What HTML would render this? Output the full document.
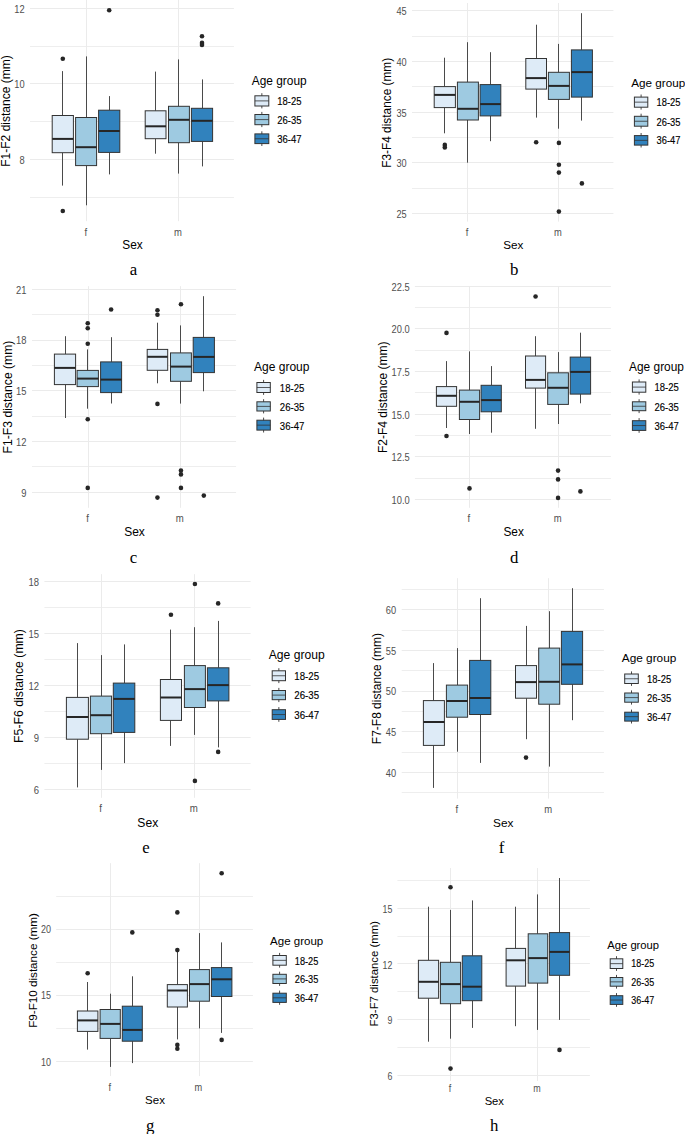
<!DOCTYPE html>
<html><head><meta charset="utf-8"><title>Boxplots</title>
<style>
html,body{margin:0;padding:0;background:#fff;}
body{width:685px;height:1134px;overflow:hidden;}
svg{display:block;}
text{font-family:"Liberation Sans", sans-serif;}
</style></head>
<body>
<svg width="685" height="1134" viewBox="0 0 685 1134">
<rect width="685" height="1134" fill="#fff"/>
<line x1="30" x2="233.9" y1="197.5" y2="197.5" stroke="#eeeeee" stroke-width="1.0"/>
<line x1="30" x2="233.9" y1="121.5" y2="121.5" stroke="#eeeeee" stroke-width="1.0"/>
<line x1="30" x2="233.9" y1="46.5" y2="46.5" stroke="#eeeeee" stroke-width="1.0"/>
<line x1="30" x2="233.9" y1="159.5" y2="159.5" stroke="#ebebeb" stroke-width="1.0"/>
<line x1="30" x2="233.9" y1="83.5" y2="83.5" stroke="#ebebeb" stroke-width="1.0"/>
<line x1="30" x2="233.9" y1="8.5" y2="8.5" stroke="#ebebeb" stroke-width="1.0"/>
<line x1="86.5" x2="86.5" y1="0" y2="221.2" stroke="#ebebeb" stroke-width="1.0"/>
<line x1="178.5" x2="178.5" y1="0" y2="221.2" stroke="#ebebeb" stroke-width="1.0"/>
<text transform="translate(24.6,160) scale(1,1.15)" dy="0.35em" text-anchor="end" font-size="9.31" fill="#4f4f4f">8</text>
<text transform="translate(24.6,84.5) scale(1,1.15)" dy="0.35em" text-anchor="end" font-size="9.31" fill="#4f4f4f">10</text>
<text transform="translate(24.6,9) scale(1,1.15)" dy="0.35em" text-anchor="end" font-size="9.31" fill="#4f4f4f">12</text>
<text transform="translate(9.9,111) rotate(-90)" text-anchor="middle" font-size="12.03" fill="#000000">F1-F2 distance (mm)</text>
<line x1="62.5" x2="62.5" y1="71.1" y2="115.5" stroke="#4a4a4a" stroke-width="1.0"/>
<line x1="62.5" x2="62.5" y1="152.7" y2="185.6" stroke="#4a4a4a" stroke-width="1.0"/>
<rect x="52.2" y="115.5" width="21.2" height="37.2" fill="#deebf7" stroke="#333333" stroke-width="1.0"/>
<line x1="52.2" x2="73.4" y1="138.9" y2="138.9" stroke="#262626" stroke-width="2.0"/>
<circle cx="62.8" cy="58.7" r="2.3" fill="#262626"/>
<circle cx="62.8" cy="211" r="2.3" fill="#262626"/>
<line x1="86.5" x2="86.5" y1="56.4" y2="117.5" stroke="#4a4a4a" stroke-width="1.0"/>
<line x1="86.5" x2="86.5" y1="165.6" y2="205.3" stroke="#4a4a4a" stroke-width="1.0"/>
<rect x="75.6" y="117.5" width="21" height="48.1" fill="#9ecae1" stroke="#333333" stroke-width="1.0"/>
<line x1="75.6" x2="96.6" y1="147.2" y2="147.2" stroke="#262626" stroke-width="2.0"/>
<line x1="109.5" x2="109.5" y1="96.1" y2="110.2" stroke="#4a4a4a" stroke-width="1.0"/>
<line x1="109.5" x2="109.5" y1="152.4" y2="174.4" stroke="#4a4a4a" stroke-width="1.0"/>
<rect x="98.6" y="110.2" width="21.2" height="42.2" fill="#3182bd" stroke="#333333" stroke-width="1.0"/>
<line x1="98.6" x2="119.8" y1="131" y2="131" stroke="#262626" stroke-width="2.0"/>
<circle cx="109.2" cy="10.2" r="2.3" fill="#262626"/>
<line x1="155.5" x2="155.5" y1="71.6" y2="110.8" stroke="#4a4a4a" stroke-width="1.0"/>
<line x1="155.5" x2="155.5" y1="138.7" y2="153.7" stroke="#4a4a4a" stroke-width="1.0"/>
<rect x="145.2" y="110.8" width="20.8" height="27.9" fill="#deebf7" stroke="#333333" stroke-width="1.0"/>
<line x1="145.2" x2="166" y1="126.3" y2="126.3" stroke="#262626" stroke-width="2.0"/>
<line x1="178.5" x2="178.5" y1="59.4" y2="106.3" stroke="#4a4a4a" stroke-width="1.0"/>
<line x1="178.5" x2="178.5" y1="142.7" y2="173.6" stroke="#4a4a4a" stroke-width="1.0"/>
<rect x="168.5" y="106.3" width="20.9" height="36.4" fill="#9ecae1" stroke="#333333" stroke-width="1.0"/>
<line x1="168.5" x2="189.4" y1="119.8" y2="119.8" stroke="#262626" stroke-width="2.0"/>
<line x1="202.5" x2="202.5" y1="79.4" y2="108.3" stroke="#4a4a4a" stroke-width="1.0"/>
<line x1="202.5" x2="202.5" y1="141.4" y2="166.4" stroke="#4a4a4a" stroke-width="1.0"/>
<rect x="191.4" y="108.3" width="21.2" height="33.1" fill="#3182bd" stroke="#333333" stroke-width="1.0"/>
<line x1="191.4" x2="212.6" y1="120.8" y2="120.8" stroke="#262626" stroke-width="2.0"/>
<circle cx="202" cy="36.2" r="2.3" fill="#262626"/>
<circle cx="202" cy="42.9" r="2.3" fill="#262626"/>
<circle cx="202" cy="44.9" r="2.3" fill="#262626"/>
<text transform="translate(85.9,235.7) scale(1,1.15)" text-anchor="middle" font-size="9.5" fill="#4f4f4f">f</text>
<text transform="translate(178,235.7) scale(1,1.15)" text-anchor="middle" font-size="9.5" fill="#4f4f4f">m</text>
<text x="132.5" y="249.4" text-anchor="middle" font-size="11.88" fill="#000000">Sex</text>
<text x="133.5" y="274.9" text-anchor="middle" style="font-family:&quot;Liberation Serif&quot;, serif" font-size="16.8" fill="#000">a</text>
<text x="251.8" y="84.9" font-size="11.88" fill="#000">Age group</text>
<line x1="261.85" x2="261.85" y1="93.2" y2="108.4" stroke="#4a4a4a" stroke-width="1.0"/>
<rect x="254.9" y="95.8" width="13.9" height="10.2" fill="#deebf7" stroke="#333333" stroke-width="1.0"/>
<line x1="254.9" x2="268.8" y1="100.9" y2="100.9" stroke="#333333" stroke-width="1" stroke-opacity="0.8"/>
<text transform="translate(277.3,101) scale(1,1.15)" dy="0.35em" font-size="9.5" fill="#000" stroke="#000" stroke-width="0.12">18-25</text>
<line x1="261.85" x2="261.85" y1="111.9" y2="127.1" stroke="#4a4a4a" stroke-width="1.0"/>
<rect x="254.9" y="114.5" width="13.9" height="10.2" fill="#9ecae1" stroke="#333333" stroke-width="1.0"/>
<line x1="254.9" x2="268.8" y1="119.6" y2="119.6" stroke="#333333" stroke-width="1" stroke-opacity="0.8"/>
<text transform="translate(277.3,120.6) scale(1,1.15)" dy="0.35em" font-size="9.5" fill="#000" stroke="#000" stroke-width="0.12">26-35</text>
<line x1="261.85" x2="261.85" y1="131.3" y2="146" stroke="#4a4a4a" stroke-width="1.0"/>
<rect x="254.9" y="133.9" width="13.9" height="9.7" fill="#3182bd" stroke="#333333" stroke-width="1.0"/>
<line x1="254.9" x2="268.8" y1="138.75" y2="138.75" stroke="#333333" stroke-width="1" stroke-opacity="0.8"/>
<text transform="translate(277.3,139.4) scale(1,1.15)" dy="0.35em" font-size="9.5" fill="#000" stroke="#000" stroke-width="0.12">36-47</text>
<line x1="412" x2="613.4" y1="188.5" y2="188.5" stroke="#eeeeee" stroke-width="1.0"/>
<line x1="412" x2="613.4" y1="137.5" y2="137.5" stroke="#eeeeee" stroke-width="1.0"/>
<line x1="412" x2="613.4" y1="86.5" y2="86.5" stroke="#eeeeee" stroke-width="1.0"/>
<line x1="412" x2="613.4" y1="36.5" y2="36.5" stroke="#eeeeee" stroke-width="1.0"/>
<line x1="412" x2="613.4" y1="213.5" y2="213.5" stroke="#ebebeb" stroke-width="1.0"/>
<line x1="412" x2="613.4" y1="162.5" y2="162.5" stroke="#ebebeb" stroke-width="1.0"/>
<line x1="412" x2="613.4" y1="112.5" y2="112.5" stroke="#ebebeb" stroke-width="1.0"/>
<line x1="412" x2="613.4" y1="61.5" y2="61.5" stroke="#ebebeb" stroke-width="1.0"/>
<line x1="412" x2="613.4" y1="10.5" y2="10.5" stroke="#ebebeb" stroke-width="1.0"/>
<line x1="467.5" x2="467.5" y1="3" y2="221.6" stroke="#ebebeb" stroke-width="1.0"/>
<line x1="558.5" x2="558.5" y1="3" y2="221.6" stroke="#ebebeb" stroke-width="1.0"/>
<text transform="translate(406.6,214.2) scale(1,1.15)" dy="0.35em" text-anchor="end" font-size="9.17" fill="#4f4f4f">25</text>
<text transform="translate(406.6,163.55) scale(1,1.15)" dy="0.35em" text-anchor="end" font-size="9.17" fill="#4f4f4f">30</text>
<text transform="translate(406.6,112.9) scale(1,1.15)" dy="0.35em" text-anchor="end" font-size="9.17" fill="#4f4f4f">35</text>
<text transform="translate(406.6,62.25) scale(1,1.15)" dy="0.35em" text-anchor="end" font-size="9.17" fill="#4f4f4f">40</text>
<text transform="translate(406.6,11.6) scale(1,1.15)" dy="0.35em" text-anchor="end" font-size="9.17" fill="#4f4f4f">45</text>
<text transform="translate(391.2,112.8) rotate(-90)" text-anchor="middle" font-size="11.85" fill="#000000">F3-F4 distance (mm)</text>
<line x1="444.5" x2="444.5" y1="57.7" y2="86.6" stroke="#4a4a4a" stroke-width="1.0"/>
<line x1="444.5" x2="444.5" y1="107.6" y2="133.3" stroke="#4a4a4a" stroke-width="1.0"/>
<rect x="434.2" y="86.6" width="21.2" height="21" fill="#deebf7" stroke="#333333" stroke-width="1.0"/>
<line x1="434.2" x2="455.4" y1="94.9" y2="94.9" stroke="#262626" stroke-width="2.0"/>
<circle cx="444.8" cy="144.9" r="2.3" fill="#262626"/>
<circle cx="444.8" cy="147.4" r="2.3" fill="#262626"/>
<line x1="467.5" x2="467.5" y1="42.2" y2="82.1" stroke="#4a4a4a" stroke-width="1.0"/>
<line x1="467.5" x2="467.5" y1="120" y2="162.7" stroke="#4a4a4a" stroke-width="1.0"/>
<rect x="457.4" y="82.1" width="21" height="37.9" fill="#9ecae1" stroke="#333333" stroke-width="1.0"/>
<line x1="457.4" x2="478.4" y1="108.8" y2="108.8" stroke="#262626" stroke-width="2.0"/>
<line x1="490.5" x2="490.5" y1="52.2" y2="84.6" stroke="#4a4a4a" stroke-width="1.0"/>
<line x1="490.5" x2="490.5" y1="115.9" y2="141.2" stroke="#4a4a4a" stroke-width="1.0"/>
<rect x="480.1" y="84.6" width="20.7" height="31.3" fill="#3182bd" stroke="#333333" stroke-width="1.0"/>
<line x1="480.1" x2="500.8" y1="104.1" y2="104.1" stroke="#262626" stroke-width="2.0"/>
<line x1="536.5" x2="536.5" y1="24.7" y2="58.5" stroke="#4a4a4a" stroke-width="1.0"/>
<line x1="536.5" x2="536.5" y1="89.1" y2="117.6" stroke="#4a4a4a" stroke-width="1.0"/>
<rect x="525.8" y="58.5" width="20.7" height="30.6" fill="#deebf7" stroke="#333333" stroke-width="1.0"/>
<line x1="525.8" x2="546.5" y1="78.1" y2="78.1" stroke="#262626" stroke-width="2.0"/>
<circle cx="536.15" cy="142.3" r="2.3" fill="#262626"/>
<line x1="558.5" x2="558.5" y1="43.9" y2="72.3" stroke="#4a4a4a" stroke-width="1.0"/>
<line x1="558.5" x2="558.5" y1="99.4" y2="128.7" stroke="#4a4a4a" stroke-width="1.0"/>
<rect x="548.4" y="72.3" width="21" height="27.1" fill="#9ecae1" stroke="#333333" stroke-width="1.0"/>
<line x1="548.4" x2="569.4" y1="85.9" y2="85.9" stroke="#262626" stroke-width="2.0"/>
<circle cx="558.9" cy="142.9" r="2.3" fill="#262626"/>
<circle cx="558.9" cy="164.7" r="2.3" fill="#262626"/>
<circle cx="558.9" cy="172.6" r="2.3" fill="#262626"/>
<circle cx="558.9" cy="211.6" r="2.3" fill="#262626"/>
<line x1="581.5" x2="581.5" y1="13.2" y2="49.9" stroke="#4a4a4a" stroke-width="1.0"/>
<line x1="581.5" x2="581.5" y1="97.1" y2="120.6" stroke="#4a4a4a" stroke-width="1.0"/>
<rect x="571.4" y="49.9" width="21" height="47.2" fill="#3182bd" stroke="#333333" stroke-width="1.0"/>
<line x1="571.4" x2="592.4" y1="72.1" y2="72.1" stroke="#262626" stroke-width="2.0"/>
<circle cx="581.9" cy="183.4" r="2.3" fill="#262626"/>
<text transform="translate(467,235.7) scale(1,1.15)" text-anchor="middle" font-size="9.36" fill="#4f4f4f">f</text>
<text transform="translate(558,235.7) scale(1,1.15)" text-anchor="middle" font-size="9.36" fill="#4f4f4f">m</text>
<text x="513.2" y="249.4" text-anchor="middle" font-size="11.7" fill="#000000">Sex</text>
<text x="514.2" y="274.9" text-anchor="middle" style="font-family:&quot;Liberation Serif&quot;, serif" font-size="16.8" fill="#000">b</text>
<text x="631.3" y="87.4" font-size="11.7" fill="#000">Age group</text>
<line x1="641.1" x2="641.1" y1="94.5" y2="109.6" stroke="#4a4a4a" stroke-width="1.0"/>
<rect x="634.4" y="97.1" width="13.4" height="10.1" fill="#deebf7" stroke="#333333" stroke-width="1.0"/>
<line x1="634.4" x2="647.8" y1="102.15" y2="102.15" stroke="#333333" stroke-width="1" stroke-opacity="0.8"/>
<text transform="translate(656.5,102.3) scale(1,1.15)" dy="0.35em" font-size="9.36" fill="#000" stroke="#000" stroke-width="0.12">18-25</text>
<line x1="641.1" x2="641.1" y1="113.7" y2="128.6" stroke="#4a4a4a" stroke-width="1.0"/>
<rect x="634.4" y="116.3" width="13.4" height="9.9" fill="#9ecae1" stroke="#333333" stroke-width="1.0"/>
<line x1="634.4" x2="647.8" y1="121.25" y2="121.25" stroke="#333333" stroke-width="1" stroke-opacity="0.8"/>
<text transform="translate(656.5,121.8) scale(1,1.15)" dy="0.35em" font-size="9.36" fill="#000" stroke="#000" stroke-width="0.12">26-35</text>
<line x1="641.1" x2="641.1" y1="133" y2="147.5" stroke="#4a4a4a" stroke-width="1.0"/>
<rect x="634.4" y="135.6" width="13.4" height="9.5" fill="#3182bd" stroke="#333333" stroke-width="1.0"/>
<line x1="634.4" x2="647.8" y1="140.35" y2="140.35" stroke="#333333" stroke-width="1" stroke-opacity="0.8"/>
<text transform="translate(656.5,140.7) scale(1,1.15)" dy="0.35em" font-size="9.36" fill="#000" stroke="#000" stroke-width="0.12">36-47</text>
<line x1="32" x2="236.1" y1="466.5" y2="466.5" stroke="#eeeeee" stroke-width="1.0"/>
<line x1="32" x2="236.1" y1="416.5" y2="416.5" stroke="#eeeeee" stroke-width="1.0"/>
<line x1="32" x2="236.1" y1="365.5" y2="365.5" stroke="#eeeeee" stroke-width="1.0"/>
<line x1="32" x2="236.1" y1="314.5" y2="314.5" stroke="#eeeeee" stroke-width="1.0"/>
<line x1="32" x2="236.1" y1="492.5" y2="492.5" stroke="#ebebeb" stroke-width="1.0"/>
<line x1="32" x2="236.1" y1="441.5" y2="441.5" stroke="#ebebeb" stroke-width="1.0"/>
<line x1="32" x2="236.1" y1="390.5" y2="390.5" stroke="#ebebeb" stroke-width="1.0"/>
<line x1="32" x2="236.1" y1="340.5" y2="340.5" stroke="#ebebeb" stroke-width="1.0"/>
<line x1="32" x2="236.1" y1="289.5" y2="289.5" stroke="#ebebeb" stroke-width="1.0"/>
<line x1="88.5" x2="88.5" y1="286.2" y2="507.8" stroke="#ebebeb" stroke-width="1.0"/>
<line x1="180.5" x2="180.5" y1="286.2" y2="507.8" stroke="#ebebeb" stroke-width="1.0"/>
<text transform="translate(26.4,492.8) scale(1,1.15)" dy="0.35em" text-anchor="end" font-size="9.4" fill="#4f4f4f">9</text>
<text transform="translate(26.4,442.1) scale(1,1.15)" dy="0.35em" text-anchor="end" font-size="9.4" fill="#4f4f4f">12</text>
<text transform="translate(26.4,391.4) scale(1,1.15)" dy="0.35em" text-anchor="end" font-size="9.4" fill="#4f4f4f">15</text>
<text transform="translate(26.4,340.7) scale(1,1.15)" dy="0.35em" text-anchor="end" font-size="9.4" fill="#4f4f4f">18</text>
<text transform="translate(26.4,290) scale(1,1.15)" dy="0.35em" text-anchor="end" font-size="9.4" fill="#4f4f4f">21</text>
<text transform="translate(11.5,397) rotate(-90)" text-anchor="middle" font-size="12.16" fill="#000000">F1-F3 distance (mm)</text>
<line x1="65.5" x2="65.5" y1="336.2" y2="354.1" stroke="#4a4a4a" stroke-width="1.0"/>
<line x1="65.5" x2="65.5" y1="384.6" y2="418" stroke="#4a4a4a" stroke-width="1.0"/>
<rect x="54.4" y="354.1" width="21.2" height="30.5" fill="#deebf7" stroke="#333333" stroke-width="1.0"/>
<line x1="54.4" x2="75.6" y1="367.9" y2="367.9" stroke="#262626" stroke-width="2.0"/>
<line x1="87.5" x2="87.5" y1="349.4" y2="370.4" stroke="#4a4a4a" stroke-width="1.0"/>
<line x1="87.5" x2="87.5" y1="386.6" y2="408.7" stroke="#4a4a4a" stroke-width="1.0"/>
<rect x="77.1" y="370.4" width="21.3" height="16.2" fill="#9ecae1" stroke="#333333" stroke-width="1.0"/>
<line x1="77.1" x2="98.4" y1="378.6" y2="378.6" stroke="#262626" stroke-width="2.0"/>
<circle cx="87.75" cy="323.2" r="2.3" fill="#262626"/>
<circle cx="87.75" cy="328.2" r="2.3" fill="#262626"/>
<circle cx="87.75" cy="343.7" r="2.3" fill="#262626"/>
<circle cx="87.75" cy="419.2" r="2.3" fill="#262626"/>
<circle cx="87.75" cy="487.9" r="2.3" fill="#262626"/>
<line x1="111.5" x2="111.5" y1="337.2" y2="361.9" stroke="#4a4a4a" stroke-width="1.0"/>
<line x1="111.5" x2="111.5" y1="392.6" y2="403.5" stroke="#4a4a4a" stroke-width="1.0"/>
<rect x="100.6" y="361.9" width="21" height="30.7" fill="#3182bd" stroke="#333333" stroke-width="1.0"/>
<line x1="100.6" x2="121.6" y1="379.6" y2="379.6" stroke="#262626" stroke-width="2.0"/>
<circle cx="111.1" cy="309.5" r="2.3" fill="#262626"/>
<line x1="157.5" x2="157.5" y1="322.7" y2="349.4" stroke="#4a4a4a" stroke-width="1.0"/>
<line x1="157.5" x2="157.5" y1="370.3" y2="383.3" stroke="#4a4a4a" stroke-width="1.0"/>
<rect x="147.2" y="349.4" width="20.5" height="20.9" fill="#deebf7" stroke="#333333" stroke-width="1.0"/>
<line x1="147.2" x2="167.7" y1="356.8" y2="356.8" stroke="#262626" stroke-width="2.0"/>
<circle cx="157.45" cy="310.2" r="2.3" fill="#262626"/>
<circle cx="157.45" cy="314.7" r="2.3" fill="#262626"/>
<circle cx="157.45" cy="403.9" r="2.3" fill="#262626"/>
<circle cx="157.45" cy="497.6" r="2.3" fill="#262626"/>
<line x1="180.5" x2="180.5" y1="325.4" y2="352.9" stroke="#4a4a4a" stroke-width="1.0"/>
<line x1="180.5" x2="180.5" y1="381.3" y2="403.6" stroke="#4a4a4a" stroke-width="1.0"/>
<rect x="170.5" y="352.9" width="20.9" height="28.4" fill="#9ecae1" stroke="#333333" stroke-width="1.0"/>
<line x1="170.5" x2="191.4" y1="366.6" y2="366.6" stroke="#262626" stroke-width="2.0"/>
<circle cx="180.95" cy="304.2" r="2.3" fill="#262626"/>
<circle cx="180.95" cy="470.6" r="2.3" fill="#262626"/>
<circle cx="180.95" cy="474.4" r="2.3" fill="#262626"/>
<circle cx="180.95" cy="487.9" r="2.3" fill="#262626"/>
<line x1="203.5" x2="203.5" y1="296.2" y2="337.4" stroke="#4a4a4a" stroke-width="1.0"/>
<line x1="203.5" x2="203.5" y1="372.6" y2="391.3" stroke="#4a4a4a" stroke-width="1.0"/>
<rect x="193.2" y="337.4" width="21.2" height="35.2" fill="#3182bd" stroke="#333333" stroke-width="1.0"/>
<line x1="193.2" x2="214.4" y1="356.9" y2="356.9" stroke="#262626" stroke-width="2.0"/>
<circle cx="203.8" cy="495.6" r="2.3" fill="#262626"/>
<text transform="translate(87.6,522.4) scale(1,1.15)" text-anchor="middle" font-size="9.6" fill="#4f4f4f">f</text>
<text transform="translate(179.7,522.4) scale(1,1.15)" text-anchor="middle" font-size="9.6" fill="#4f4f4f">m</text>
<text x="134.5" y="536.1" text-anchor="middle" font-size="12" fill="#000000">Sex</text>
<text x="133.4" y="562.7" text-anchor="middle" style="font-family:&quot;Liberation Serif&quot;, serif" font-size="16.8" fill="#000">c</text>
<text x="254.1" y="371.1" font-size="12" fill="#000">Age group</text>
<line x1="263.6" x2="263.6" y1="379.9" y2="394.9" stroke="#4a4a4a" stroke-width="1.0"/>
<rect x="256.9" y="382.5" width="13.4" height="10" fill="#deebf7" stroke="#333333" stroke-width="1.0"/>
<line x1="256.9" x2="270.3" y1="387.5" y2="387.5" stroke="#333333" stroke-width="1" stroke-opacity="0.8"/>
<text transform="translate(279.8,387.8) scale(1,1.15)" dy="0.35em" font-size="9.6" fill="#000" stroke="#000" stroke-width="0.12">18-25</text>
<line x1="263.6" x2="263.6" y1="399.2" y2="413.4" stroke="#4a4a4a" stroke-width="1.0"/>
<rect x="256.9" y="401.8" width="13.4" height="9.2" fill="#9ecae1" stroke="#333333" stroke-width="1.0"/>
<line x1="256.9" x2="270.3" y1="406.4" y2="406.4" stroke="#333333" stroke-width="1" stroke-opacity="0.8"/>
<text transform="translate(279.8,407) scale(1,1.15)" dy="0.35em" font-size="9.6" fill="#000" stroke="#000" stroke-width="0.12">26-35</text>
<line x1="263.6" x2="263.6" y1="417.6" y2="432.5" stroke="#4a4a4a" stroke-width="1.0"/>
<rect x="256.9" y="420.2" width="13.4" height="9.9" fill="#3182bd" stroke="#333333" stroke-width="1.0"/>
<line x1="256.9" x2="270.3" y1="425.15" y2="425.15" stroke="#333333" stroke-width="1" stroke-opacity="0.8"/>
<text transform="translate(279.8,425.7) scale(1,1.15)" dy="0.35em" font-size="9.6" fill="#000" stroke="#000" stroke-width="0.12">36-47</text>
<line x1="414.9" x2="610.9" y1="478.5" y2="478.5" stroke="#eeeeee" stroke-width="1.0"/>
<line x1="414.9" x2="610.9" y1="435.5" y2="435.5" stroke="#eeeeee" stroke-width="1.0"/>
<line x1="414.9" x2="610.9" y1="392.5" y2="392.5" stroke="#eeeeee" stroke-width="1.0"/>
<line x1="414.9" x2="610.9" y1="350.5" y2="350.5" stroke="#eeeeee" stroke-width="1.0"/>
<line x1="414.9" x2="610.9" y1="307.5" y2="307.5" stroke="#eeeeee" stroke-width="1.0"/>
<line x1="414.9" x2="610.9" y1="499.5" y2="499.5" stroke="#ebebeb" stroke-width="1.0"/>
<line x1="414.9" x2="610.9" y1="456.5" y2="456.5" stroke="#ebebeb" stroke-width="1.0"/>
<line x1="414.9" x2="610.9" y1="414.5" y2="414.5" stroke="#ebebeb" stroke-width="1.0"/>
<line x1="414.9" x2="610.9" y1="371.5" y2="371.5" stroke="#ebebeb" stroke-width="1.0"/>
<line x1="414.9" x2="610.9" y1="328.5" y2="328.5" stroke="#ebebeb" stroke-width="1.0"/>
<line x1="414.9" x2="610.9" y1="286.5" y2="286.5" stroke="#ebebeb" stroke-width="1.0"/>
<line x1="469.5" x2="469.5" y1="286.2" y2="507.8" stroke="#ebebeb" stroke-width="1.0"/>
<line x1="558.5" x2="558.5" y1="286.2" y2="507.8" stroke="#ebebeb" stroke-width="1.0"/>
<text transform="translate(409.7,500.15) scale(1,1.15)" dy="0.35em" text-anchor="end" font-size="9.31" fill="#4f4f4f">10.0</text>
<text transform="translate(409.7,457.48) scale(1,1.15)" dy="0.35em" text-anchor="end" font-size="9.31" fill="#4f4f4f">12.5</text>
<text transform="translate(409.7,414.8) scale(1,1.15)" dy="0.35em" text-anchor="end" font-size="9.31" fill="#4f4f4f">15.0</text>
<text transform="translate(409.7,372.12) scale(1,1.15)" dy="0.35em" text-anchor="end" font-size="9.31" fill="#4f4f4f">17.5</text>
<text transform="translate(409.7,329.45) scale(1,1.15)" dy="0.35em" text-anchor="end" font-size="9.31" fill="#4f4f4f">20.0</text>
<text transform="translate(409.7,286.77) scale(1,1.15)" dy="0.35em" text-anchor="end" font-size="9.31" fill="#4f4f4f">22.5</text>
<text transform="translate(386.5,397.3) rotate(-90)" text-anchor="middle" font-size="12.03" fill="#000000">F2-F4 distance (mm)</text>
<line x1="446.5" x2="446.5" y1="361.1" y2="386.6" stroke="#4a4a4a" stroke-width="1.0"/>
<line x1="446.5" x2="446.5" y1="406.3" y2="428" stroke="#4a4a4a" stroke-width="1.0"/>
<rect x="436.4" y="386.6" width="20.2" height="19.7" fill="#deebf7" stroke="#333333" stroke-width="1.0"/>
<line x1="436.4" x2="456.6" y1="395.8" y2="395.8" stroke="#262626" stroke-width="2.0"/>
<circle cx="446.5" cy="332.9" r="2.3" fill="#262626"/>
<circle cx="446.5" cy="436" r="2.3" fill="#262626"/>
<line x1="469.5" x2="469.5" y1="351.4" y2="390.1" stroke="#4a4a4a" stroke-width="1.0"/>
<line x1="469.5" x2="469.5" y1="419.5" y2="434" stroke="#4a4a4a" stroke-width="1.0"/>
<rect x="459.4" y="390.1" width="20.2" height="29.4" fill="#9ecae1" stroke="#333333" stroke-width="1.0"/>
<line x1="459.4" x2="479.6" y1="401.8" y2="401.8" stroke="#262626" stroke-width="2.0"/>
<circle cx="469.5" cy="488.4" r="2.3" fill="#262626"/>
<line x1="491.5" x2="491.5" y1="366.1" y2="385.3" stroke="#4a4a4a" stroke-width="1.0"/>
<line x1="491.5" x2="491.5" y1="411.8" y2="432.7" stroke="#4a4a4a" stroke-width="1.0"/>
<rect x="481.1" y="385.3" width="20.2" height="26.5" fill="#3182bd" stroke="#333333" stroke-width="1.0"/>
<line x1="481.1" x2="501.3" y1="400.1" y2="400.1" stroke="#262626" stroke-width="2.0"/>
<line x1="535.5" x2="535.5" y1="336.2" y2="356" stroke="#4a4a4a" stroke-width="1.0"/>
<line x1="535.5" x2="535.5" y1="388.1" y2="428.8" stroke="#4a4a4a" stroke-width="1.0"/>
<rect x="525.5" y="356" width="20.1" height="32.1" fill="#deebf7" stroke="#333333" stroke-width="1.0"/>
<line x1="525.5" x2="545.6" y1="379.9" y2="379.9" stroke="#262626" stroke-width="2.0"/>
<circle cx="535.55" cy="296.5" r="2.3" fill="#262626"/>
<line x1="558.5" x2="558.5" y1="352.1" y2="372.8" stroke="#4a4a4a" stroke-width="1.0"/>
<line x1="558.5" x2="558.5" y1="404.4" y2="424" stroke="#4a4a4a" stroke-width="1.0"/>
<rect x="547.7" y="372.8" width="20.7" height="31.6" fill="#9ecae1" stroke="#333333" stroke-width="1.0"/>
<line x1="547.7" x2="568.4" y1="387.8" y2="387.8" stroke="#262626" stroke-width="2.0"/>
<circle cx="558.05" cy="470.6" r="2.3" fill="#262626"/>
<circle cx="558.05" cy="479.4" r="2.3" fill="#262626"/>
<circle cx="558.05" cy="497.9" r="2.3" fill="#262626"/>
<line x1="580.5" x2="580.5" y1="332.7" y2="357.1" stroke="#4a4a4a" stroke-width="1.0"/>
<line x1="580.5" x2="580.5" y1="394.1" y2="403.3" stroke="#4a4a4a" stroke-width="1.0"/>
<rect x="570.2" y="357.1" width="20.4" height="37" fill="#3182bd" stroke="#333333" stroke-width="1.0"/>
<line x1="570.2" x2="590.6" y1="371.9" y2="371.9" stroke="#262626" stroke-width="2.0"/>
<circle cx="580.4" cy="491.4" r="2.3" fill="#262626"/>
<text transform="translate(468.9,522.4) scale(1,1.15)" text-anchor="middle" font-size="9.5" fill="#4f4f4f">f</text>
<text transform="translate(557.7,522.4) scale(1,1.15)" text-anchor="middle" font-size="9.5" fill="#4f4f4f">m</text>
<text x="513.7" y="536.1" text-anchor="middle" font-size="11.88" fill="#000000">Sex</text>
<text x="514.2" y="562.7" text-anchor="middle" style="font-family:&quot;Liberation Serif&quot;, serif" font-size="16.8" fill="#000">d</text>
<text x="629.1" y="371.1" font-size="11.88" fill="#000">Age group</text>
<line x1="639.1" x2="639.1" y1="379.4" y2="394.6" stroke="#4a4a4a" stroke-width="1.0"/>
<rect x="632.4" y="382" width="13.4" height="10.2" fill="#deebf7" stroke="#333333" stroke-width="1.0"/>
<line x1="632.4" x2="645.8" y1="387.1" y2="387.1" stroke="#333333" stroke-width="1" stroke-opacity="0.8"/>
<text transform="translate(654.5,387.6) scale(1,1.15)" dy="0.35em" font-size="9.5" fill="#000" stroke="#000" stroke-width="0.12">18-25</text>
<line x1="639.1" x2="639.1" y1="399.2" y2="413.1" stroke="#4a4a4a" stroke-width="1.0"/>
<rect x="632.4" y="401.8" width="13.4" height="8.9" fill="#9ecae1" stroke="#333333" stroke-width="1.0"/>
<line x1="632.4" x2="645.8" y1="406.25" y2="406.25" stroke="#333333" stroke-width="1" stroke-opacity="0.8"/>
<text transform="translate(654.5,407) scale(1,1.15)" dy="0.35em" font-size="9.5" fill="#000" stroke="#000" stroke-width="0.12">26-35</text>
<line x1="639.1" x2="639.1" y1="418.1" y2="432.8" stroke="#4a4a4a" stroke-width="1.0"/>
<rect x="632.4" y="420.7" width="13.4" height="9.7" fill="#3182bd" stroke="#333333" stroke-width="1.0"/>
<line x1="632.4" x2="645.8" y1="425.55" y2="425.55" stroke="#333333" stroke-width="1" stroke-opacity="0.8"/>
<text transform="translate(654.5,426) scale(1,1.15)" dy="0.35em" font-size="9.5" fill="#000" stroke="#000" stroke-width="0.12">36-47</text>
<line x1="44.4" x2="250.6" y1="763.5" y2="763.5" stroke="#eeeeee" stroke-width="1.0"/>
<line x1="44.4" x2="250.6" y1="711.5" y2="711.5" stroke="#eeeeee" stroke-width="1.0"/>
<line x1="44.4" x2="250.6" y1="659.5" y2="659.5" stroke="#eeeeee" stroke-width="1.0"/>
<line x1="44.4" x2="250.6" y1="607.5" y2="607.5" stroke="#eeeeee" stroke-width="1.0"/>
<line x1="44.4" x2="250.6" y1="789.5" y2="789.5" stroke="#ebebeb" stroke-width="1.0"/>
<line x1="44.4" x2="250.6" y1="737.5" y2="737.5" stroke="#ebebeb" stroke-width="1.0"/>
<line x1="44.4" x2="250.6" y1="685.5" y2="685.5" stroke="#ebebeb" stroke-width="1.0"/>
<line x1="44.4" x2="250.6" y1="633.5" y2="633.5" stroke="#ebebeb" stroke-width="1.0"/>
<line x1="44.4" x2="250.6" y1="581.5" y2="581.5" stroke="#ebebeb" stroke-width="1.0"/>
<line x1="101.5" x2="101.5" y1="574.2" y2="797.8" stroke="#ebebeb" stroke-width="1.0"/>
<line x1="194.5" x2="194.5" y1="574.2" y2="797.8" stroke="#ebebeb" stroke-width="1.0"/>
<text transform="translate(39,789.7) scale(1,1.15)" dy="0.35em" text-anchor="end" font-size="9.49" fill="#4f4f4f">6</text>
<text transform="translate(39,737.86) scale(1,1.15)" dy="0.35em" text-anchor="end" font-size="9.49" fill="#4f4f4f">9</text>
<text transform="translate(39,686.02) scale(1,1.15)" dy="0.35em" text-anchor="end" font-size="9.49" fill="#4f4f4f">12</text>
<text transform="translate(39,634.18) scale(1,1.15)" dy="0.35em" text-anchor="end" font-size="9.49" fill="#4f4f4f">15</text>
<text transform="translate(39,582.34) scale(1,1.15)" dy="0.35em" text-anchor="end" font-size="9.49" fill="#4f4f4f">18</text>
<text transform="translate(23.3,686) rotate(-90)" text-anchor="middle" font-size="12.28" fill="#000000">F5-F6 distance (mm)</text>
<line x1="77.5" x2="77.5" y1="643.1" y2="697.4" stroke="#4a4a4a" stroke-width="1.0"/>
<line x1="77.5" x2="77.5" y1="739.2" y2="787.4" stroke="#4a4a4a" stroke-width="1.0"/>
<rect x="66.4" y="697.4" width="22" height="41.8" fill="#deebf7" stroke="#333333" stroke-width="1.0"/>
<line x1="66.4" x2="88.4" y1="717" y2="717" stroke="#262626" stroke-width="2.0"/>
<line x1="101.5" x2="101.5" y1="655.1" y2="696.1" stroke="#4a4a4a" stroke-width="1.0"/>
<line x1="101.5" x2="101.5" y1="733.7" y2="769.9" stroke="#4a4a4a" stroke-width="1.0"/>
<rect x="90.4" y="696.1" width="21.2" height="37.6" fill="#9ecae1" stroke="#333333" stroke-width="1.0"/>
<line x1="90.4" x2="111.6" y1="715.2" y2="715.2" stroke="#262626" stroke-width="2.0"/>
<line x1="124.5" x2="124.5" y1="644.4" y2="683.1" stroke="#4a4a4a" stroke-width="1.0"/>
<line x1="124.5" x2="124.5" y1="732.4" y2="763.1" stroke="#4a4a4a" stroke-width="1.0"/>
<rect x="113.3" y="683.1" width="21.5" height="49.3" fill="#3182bd" stroke="#333333" stroke-width="1.0"/>
<line x1="113.3" x2="134.8" y1="698.9" y2="698.9" stroke="#262626" stroke-width="2.0"/>
<line x1="170.5" x2="170.5" y1="629.6" y2="679.5" stroke="#4a4a4a" stroke-width="1.0"/>
<line x1="170.5" x2="170.5" y1="720.4" y2="745.9" stroke="#4a4a4a" stroke-width="1.0"/>
<rect x="160.4" y="679.5" width="21.1" height="40.9" fill="#deebf7" stroke="#333333" stroke-width="1.0"/>
<line x1="160.4" x2="181.5" y1="697.5" y2="697.5" stroke="#262626" stroke-width="2.0"/>
<circle cx="170.95" cy="614.8" r="2.3" fill="#262626"/>
<line x1="194.5" x2="194.5" y1="627.2" y2="665.6" stroke="#4a4a4a" stroke-width="1.0"/>
<line x1="194.5" x2="194.5" y1="707.5" y2="734.9" stroke="#4a4a4a" stroke-width="1.0"/>
<rect x="184.4" y="665.6" width="21" height="41.9" fill="#9ecae1" stroke="#333333" stroke-width="1.0"/>
<line x1="184.4" x2="205.4" y1="689.1" y2="689.1" stroke="#262626" stroke-width="2.0"/>
<circle cx="194.9" cy="584" r="2.3" fill="#262626"/>
<circle cx="194.9" cy="780.9" r="2.3" fill="#262626"/>
<line x1="218.5" x2="218.5" y1="620.9" y2="667.8" stroke="#4a4a4a" stroke-width="1.0"/>
<line x1="218.5" x2="218.5" y1="700.9" y2="747.4" stroke="#4a4a4a" stroke-width="1.0"/>
<rect x="207.4" y="667.8" width="21.5" height="33.1" fill="#3182bd" stroke="#333333" stroke-width="1.0"/>
<line x1="207.4" x2="228.9" y1="685.1" y2="685.1" stroke="#262626" stroke-width="2.0"/>
<circle cx="218.15" cy="603.4" r="2.3" fill="#262626"/>
<circle cx="218.15" cy="751.9" r="2.3" fill="#262626"/>
<text transform="translate(100.6,812.4) scale(1,1.15)" text-anchor="middle" font-size="9.7" fill="#4f4f4f">f</text>
<text transform="translate(193.7,812.4) scale(1,1.15)" text-anchor="middle" font-size="9.7" fill="#4f4f4f">m</text>
<text x="147.8" y="826.5" text-anchor="middle" font-size="12.12" fill="#000000">Sex</text>
<text x="146" y="852.8" text-anchor="middle" style="font-family:&quot;Liberation Serif&quot;, serif" font-size="16.8" fill="#000">e</text>
<text x="268.8" y="659.4" font-size="12.12" fill="#000">Age group</text>
<line x1="278.85" x2="278.85" y1="668.2" y2="683.1" stroke="#4a4a4a" stroke-width="1.0"/>
<rect x="272.2" y="670.8" width="13.3" height="9.9" fill="#deebf7" stroke="#333333" stroke-width="1.0"/>
<line x1="272.2" x2="285.5" y1="675.75" y2="675.75" stroke="#333333" stroke-width="1" stroke-opacity="0.8"/>
<text transform="translate(294.3,675.8) scale(1,1.15)" dy="0.35em" font-size="9.7" fill="#000" stroke="#000" stroke-width="0.12">18-25</text>
<line x1="278.85" x2="278.85" y1="687.9" y2="702.1" stroke="#4a4a4a" stroke-width="1.0"/>
<rect x="272.2" y="690.5" width="13.3" height="9.2" fill="#9ecae1" stroke="#333333" stroke-width="1.0"/>
<line x1="272.2" x2="285.5" y1="695.1" y2="695.1" stroke="#333333" stroke-width="1" stroke-opacity="0.8"/>
<text transform="translate(294.3,695.3) scale(1,1.15)" dy="0.35em" font-size="9.7" fill="#000" stroke="#000" stroke-width="0.12">26-35</text>
<line x1="278.85" x2="278.85" y1="707.1" y2="721.8" stroke="#4a4a4a" stroke-width="1.0"/>
<rect x="272.2" y="709.7" width="13.3" height="9.7" fill="#3182bd" stroke="#333333" stroke-width="1.0"/>
<line x1="272.2" x2="285.5" y1="714.55" y2="714.55" stroke="#333333" stroke-width="1" stroke-opacity="0.8"/>
<text transform="translate(294.3,714.7) scale(1,1.15)" dy="0.35em" font-size="9.7" fill="#000" stroke="#000" stroke-width="0.12">36-47</text>
<line x1="401.7" x2="603.9" y1="792.5" y2="792.5" stroke="#eeeeee" stroke-width="1.0"/>
<line x1="401.7" x2="603.9" y1="752.5" y2="752.5" stroke="#eeeeee" stroke-width="1.0"/>
<line x1="401.7" x2="603.9" y1="711.5" y2="711.5" stroke="#eeeeee" stroke-width="1.0"/>
<line x1="401.7" x2="603.9" y1="670.5" y2="670.5" stroke="#eeeeee" stroke-width="1.0"/>
<line x1="401.7" x2="603.9" y1="630.5" y2="630.5" stroke="#eeeeee" stroke-width="1.0"/>
<line x1="401.7" x2="603.9" y1="589.5" y2="589.5" stroke="#eeeeee" stroke-width="1.0"/>
<line x1="401.7" x2="603.9" y1="772.5" y2="772.5" stroke="#ebebeb" stroke-width="1.0"/>
<line x1="401.7" x2="603.9" y1="731.5" y2="731.5" stroke="#ebebeb" stroke-width="1.0"/>
<line x1="401.7" x2="603.9" y1="691.5" y2="691.5" stroke="#ebebeb" stroke-width="1.0"/>
<line x1="401.7" x2="603.9" y1="650.5" y2="650.5" stroke="#ebebeb" stroke-width="1.0"/>
<line x1="401.7" x2="603.9" y1="609.5" y2="609.5" stroke="#ebebeb" stroke-width="1.0"/>
<line x1="457.5" x2="457.5" y1="578.2" y2="798.6" stroke="#ebebeb" stroke-width="1.0"/>
<line x1="548.5" x2="548.5" y1="578.2" y2="798.6" stroke="#ebebeb" stroke-width="1.0"/>
<text transform="translate(396.1,773) scale(1,1.15)" dy="0.35em" text-anchor="end" font-size="9.26" fill="#4f4f4f">40</text>
<text transform="translate(396.1,732.38) scale(1,1.15)" dy="0.35em" text-anchor="end" font-size="9.26" fill="#4f4f4f">45</text>
<text transform="translate(396.1,691.75) scale(1,1.15)" dy="0.35em" text-anchor="end" font-size="9.26" fill="#4f4f4f">50</text>
<text transform="translate(396.1,651.12) scale(1,1.15)" dy="0.35em" text-anchor="end" font-size="9.26" fill="#4f4f4f">55</text>
<text transform="translate(396.1,610.5) scale(1,1.15)" dy="0.35em" text-anchor="end" font-size="9.26" fill="#4f4f4f">60</text>
<text transform="translate(381.2,688.6) rotate(-90)" text-anchor="middle" font-size="11.97" fill="#000000">F7-F8 distance (mm)</text>
<line x1="433.5" x2="433.5" y1="663.1" y2="700.6" stroke="#4a4a4a" stroke-width="1.0"/>
<line x1="433.5" x2="433.5" y1="745.4" y2="787.9" stroke="#4a4a4a" stroke-width="1.0"/>
<rect x="423.4" y="700.6" width="21" height="44.8" fill="#deebf7" stroke="#333333" stroke-width="1.0"/>
<line x1="423.4" x2="444.4" y1="722" y2="722" stroke="#262626" stroke-width="2.0"/>
<line x1="457.5" x2="457.5" y1="648.1" y2="685.1" stroke="#4a4a4a" stroke-width="1.0"/>
<line x1="457.5" x2="457.5" y1="717.2" y2="751.7" stroke="#4a4a4a" stroke-width="1.0"/>
<rect x="446.4" y="685.1" width="21.2" height="32.1" fill="#9ecae1" stroke="#333333" stroke-width="1.0"/>
<line x1="446.4" x2="467.6" y1="701" y2="701" stroke="#262626" stroke-width="2.0"/>
<line x1="480.5" x2="480.5" y1="598.2" y2="660.4" stroke="#4a4a4a" stroke-width="1.0"/>
<line x1="480.5" x2="480.5" y1="714.5" y2="762.9" stroke="#4a4a4a" stroke-width="1.0"/>
<rect x="469.6" y="660.4" width="21.2" height="54.1" fill="#3182bd" stroke="#333333" stroke-width="1.0"/>
<line x1="469.6" x2="490.8" y1="698" y2="698" stroke="#262626" stroke-width="2.0"/>
<line x1="526.5" x2="526.5" y1="625.9" y2="665.6" stroke="#4a4a4a" stroke-width="1.0"/>
<line x1="526.5" x2="526.5" y1="698.2" y2="739.2" stroke="#4a4a4a" stroke-width="1.0"/>
<rect x="515.5" y="665.6" width="21" height="32.6" fill="#deebf7" stroke="#333333" stroke-width="1.0"/>
<line x1="515.5" x2="536.5" y1="682.1" y2="682.1" stroke="#262626" stroke-width="2.0"/>
<circle cx="526" cy="757.6" r="2.3" fill="#262626"/>
<line x1="549.5" x2="549.5" y1="611.2" y2="648.1" stroke="#4a4a4a" stroke-width="1.0"/>
<line x1="549.5" x2="549.5" y1="704.2" y2="766.6" stroke="#4a4a4a" stroke-width="1.0"/>
<rect x="538.7" y="648.1" width="21" height="56.1" fill="#9ecae1" stroke="#333333" stroke-width="1.0"/>
<line x1="538.7" x2="559.7" y1="681.8" y2="681.8" stroke="#262626" stroke-width="2.0"/>
<line x1="572.5" x2="572.5" y1="588.2" y2="631.4" stroke="#4a4a4a" stroke-width="1.0"/>
<line x1="572.5" x2="572.5" y1="684.3" y2="720.2" stroke="#4a4a4a" stroke-width="1.0"/>
<rect x="561.4" y="631.4" width="21.2" height="52.9" fill="#3182bd" stroke="#333333" stroke-width="1.0"/>
<line x1="561.4" x2="582.6" y1="664.4" y2="664.4" stroke="#262626" stroke-width="2.0"/>
<text transform="translate(456.9,813) scale(1,1.15)" text-anchor="middle" font-size="9.46" fill="#4f4f4f">f</text>
<text transform="translate(548.2,813) scale(1,1.15)" text-anchor="middle" font-size="9.46" fill="#4f4f4f">m</text>
<text x="503.2" y="826.6" text-anchor="middle" font-size="11.82" fill="#000000">Sex</text>
<text x="501.5" y="852.7" text-anchor="middle" style="font-family:&quot;Liberation Serif&quot;, serif" font-size="16.8" fill="#000">f</text>
<text x="621.8" y="662.4" font-size="11.82" fill="#000">Age group</text>
<line x1="631.5" x2="631.5" y1="671.4" y2="685.9" stroke="#4a4a4a" stroke-width="1.0"/>
<rect x="624.7" y="674" width="13.6" height="9.5" fill="#deebf7" stroke="#333333" stroke-width="1.0"/>
<line x1="624.7" x2="638.3" y1="678.75" y2="678.75" stroke="#333333" stroke-width="1" stroke-opacity="0.8"/>
<text transform="translate(647,679.3) scale(1,1.15)" dy="0.35em" font-size="9.46" fill="#000" stroke="#000" stroke-width="0.12">18-25</text>
<line x1="631.5" x2="631.5" y1="690.4" y2="704.6" stroke="#4a4a4a" stroke-width="1.0"/>
<rect x="624.7" y="693" width="13.6" height="9.2" fill="#9ecae1" stroke="#333333" stroke-width="1.0"/>
<line x1="624.7" x2="638.3" y1="697.6" y2="697.6" stroke="#333333" stroke-width="1" stroke-opacity="0.8"/>
<text transform="translate(647,698.3) scale(1,1.15)" dy="0.35em" font-size="9.46" fill="#000" stroke="#000" stroke-width="0.12">26-35</text>
<line x1="631.5" x2="631.5" y1="709.6" y2="723.5" stroke="#4a4a4a" stroke-width="1.0"/>
<rect x="624.7" y="712.2" width="13.6" height="8.9" fill="#3182bd" stroke="#333333" stroke-width="1.0"/>
<line x1="624.7" x2="638.3" y1="716.65" y2="716.65" stroke="#333333" stroke-width="1" stroke-opacity="0.8"/>
<text transform="translate(647,717) scale(1,1.15)" dy="0.35em" font-size="9.46" fill="#000" stroke="#000" stroke-width="0.12">36-47</text>
<line x1="56.2" x2="252.9" y1="1028.5" y2="1028.5" stroke="#eeeeee" stroke-width="1.0"/>
<line x1="56.2" x2="252.9" y1="962.5" y2="962.5" stroke="#eeeeee" stroke-width="1.0"/>
<line x1="56.2" x2="252.9" y1="896.5" y2="896.5" stroke="#eeeeee" stroke-width="1.0"/>
<line x1="56.2" x2="252.9" y1="1061.5" y2="1061.5" stroke="#ebebeb" stroke-width="1.0"/>
<line x1="56.2" x2="252.9" y1="995.5" y2="995.5" stroke="#ebebeb" stroke-width="1.0"/>
<line x1="56.2" x2="252.9" y1="929.5" y2="929.5" stroke="#ebebeb" stroke-width="1.0"/>
<line x1="110.5" x2="110.5" y1="863.2" y2="1076.1" stroke="#ebebeb" stroke-width="1.0"/>
<line x1="199.5" x2="199.5" y1="863.2" y2="1076.1" stroke="#ebebeb" stroke-width="1.0"/>
<text transform="translate(51,1062) scale(1,1.15)" dy="0.35em" text-anchor="end" font-size="9.02" fill="#4f4f4f">10</text>
<text transform="translate(51,995.85) scale(1,1.15)" dy="0.35em" text-anchor="end" font-size="9.02" fill="#4f4f4f">15</text>
<text transform="translate(51,929.7) scale(1,1.15)" dy="0.35em" text-anchor="end" font-size="9.02" fill="#4f4f4f">20</text>
<text transform="translate(36.5,970.5) rotate(-90)" text-anchor="middle" font-size="11.67" fill="#000000">F9-F10 distance (mm)</text>
<line x1="87.5" x2="87.5" y1="982" y2="1011" stroke="#4a4a4a" stroke-width="1.0"/>
<line x1="87.5" x2="87.5" y1="1031.4" y2="1049.6" stroke="#4a4a4a" stroke-width="1.0"/>
<rect x="77.4" y="1011" width="20.5" height="20.4" fill="#deebf7" stroke="#333333" stroke-width="1.0"/>
<line x1="77.4" x2="97.9" y1="1020.4" y2="1020.4" stroke="#262626" stroke-width="2.0"/>
<circle cx="87.65" cy="973.3" r="2.3" fill="#262626"/>
<line x1="110.5" x2="110.5" y1="993.7" y2="1009.5" stroke="#4a4a4a" stroke-width="1.0"/>
<line x1="110.5" x2="110.5" y1="1038.4" y2="1066.9" stroke="#4a4a4a" stroke-width="1.0"/>
<rect x="100.1" y="1009.5" width="20.2" height="28.9" fill="#9ecae1" stroke="#333333" stroke-width="1.0"/>
<line x1="100.1" x2="120.3" y1="1023.9" y2="1023.9" stroke="#262626" stroke-width="2.0"/>
<line x1="132.5" x2="132.5" y1="976.3" y2="1006.2" stroke="#4a4a4a" stroke-width="1.0"/>
<line x1="132.5" x2="132.5" y1="1041.2" y2="1063.1" stroke="#4a4a4a" stroke-width="1.0"/>
<rect x="122.3" y="1006.2" width="20" height="35" fill="#3182bd" stroke="#333333" stroke-width="1.0"/>
<line x1="122.3" x2="142.3" y1="1029.9" y2="1029.9" stroke="#262626" stroke-width="2.0"/>
<circle cx="132.3" cy="932.4" r="2.3" fill="#262626"/>
<line x1="177.5" x2="177.5" y1="951.1" y2="984.6" stroke="#4a4a4a" stroke-width="1.0"/>
<line x1="177.5" x2="177.5" y1="1007" y2="1039.4" stroke="#4a4a4a" stroke-width="1.0"/>
<rect x="167.3" y="984.6" width="20.1" height="22.4" fill="#deebf7" stroke="#333333" stroke-width="1.0"/>
<line x1="167.3" x2="187.4" y1="990.5" y2="990.5" stroke="#262626" stroke-width="2.0"/>
<circle cx="177.35" cy="912.4" r="2.3" fill="#262626"/>
<circle cx="177.35" cy="950.1" r="2.3" fill="#262626"/>
<circle cx="177.35" cy="1044.9" r="2.3" fill="#262626"/>
<circle cx="177.35" cy="1048.8" r="2.3" fill="#262626"/>
<line x1="199.5" x2="199.5" y1="933.1" y2="969.6" stroke="#4a4a4a" stroke-width="1.0"/>
<line x1="199.5" x2="199.5" y1="1001.2" y2="1028.4" stroke="#4a4a4a" stroke-width="1.0"/>
<rect x="189.5" y="969.6" width="19.9" height="31.6" fill="#9ecae1" stroke="#333333" stroke-width="1.0"/>
<line x1="189.5" x2="209.4" y1="984.1" y2="984.1" stroke="#262626" stroke-width="2.0"/>
<line x1="221.5" x2="221.5" y1="942.4" y2="967.6" stroke="#4a4a4a" stroke-width="1.0"/>
<line x1="221.5" x2="221.5" y1="996.5" y2="1032.9" stroke="#4a4a4a" stroke-width="1.0"/>
<rect x="211.4" y="967.6" width="20.5" height="28.9" fill="#3182bd" stroke="#333333" stroke-width="1.0"/>
<line x1="211.4" x2="231.9" y1="979.3" y2="979.3" stroke="#262626" stroke-width="2.0"/>
<circle cx="221.65" cy="873.2" r="2.3" fill="#262626"/>
<circle cx="221.65" cy="1039.9" r="2.3" fill="#262626"/>
<text transform="translate(109.9,1091) scale(1,1.15)" text-anchor="middle" font-size="9.22" fill="#4f4f4f">f</text>
<text transform="translate(198.4,1091) scale(1,1.15)" text-anchor="middle" font-size="9.22" fill="#4f4f4f">m</text>
<text x="155" y="1104.1" text-anchor="middle" font-size="11.52" fill="#000000">Sex</text>
<text x="150.3" y="1130.5" text-anchor="middle" style="font-family:&quot;Liberation Serif&quot;, serif" font-size="16.8" fill="#000">g</text>
<text x="270.1" y="945.4" font-size="11.52" fill="#000">Age group</text>
<line x1="279.6" x2="279.6" y1="952.9" y2="967.6" stroke="#4a4a4a" stroke-width="1.0"/>
<rect x="272.9" y="955.5" width="13.4" height="9.7" fill="#deebf7" stroke="#333333" stroke-width="1.0"/>
<line x1="272.9" x2="286.3" y1="960.35" y2="960.35" stroke="#333333" stroke-width="1" stroke-opacity="0.8"/>
<text transform="translate(294.8,961.1) scale(1,1.15)" dy="0.35em" font-size="9.22" fill="#000" stroke="#000" stroke-width="0.12">18-25</text>
<line x1="279.6" x2="279.6" y1="971.7" y2="985.9" stroke="#4a4a4a" stroke-width="1.0"/>
<rect x="272.9" y="974.3" width="13.4" height="9.2" fill="#9ecae1" stroke="#333333" stroke-width="1.0"/>
<line x1="272.9" x2="286.3" y1="978.9" y2="978.9" stroke="#333333" stroke-width="1" stroke-opacity="0.8"/>
<text transform="translate(294.8,979.3) scale(1,1.15)" dy="0.35em" font-size="9.22" fill="#000" stroke="#000" stroke-width="0.12">26-35</text>
<line x1="279.6" x2="279.6" y1="990.6" y2="1004.8" stroke="#4a4a4a" stroke-width="1.0"/>
<rect x="272.9" y="993.2" width="13.4" height="9.2" fill="#3182bd" stroke="#333333" stroke-width="1.0"/>
<line x1="272.9" x2="286.3" y1="997.8" y2="997.8" stroke="#333333" stroke-width="1" stroke-opacity="0.8"/>
<text transform="translate(294.8,998.2) scale(1,1.15)" dy="0.35em" font-size="9.22" fill="#000" stroke="#000" stroke-width="0.12">36-47</text>
<line x1="397.4" x2="589.9" y1="1047.5" y2="1047.5" stroke="#eeeeee" stroke-width="1.0"/>
<line x1="397.4" x2="589.9" y1="991.5" y2="991.5" stroke="#eeeeee" stroke-width="1.0"/>
<line x1="397.4" x2="589.9" y1="936.5" y2="936.5" stroke="#eeeeee" stroke-width="1.0"/>
<line x1="397.4" x2="589.9" y1="880.5" y2="880.5" stroke="#eeeeee" stroke-width="1.0"/>
<line x1="397.4" x2="589.9" y1="1075.5" y2="1075.5" stroke="#ebebeb" stroke-width="1.0"/>
<line x1="397.4" x2="589.9" y1="1019.5" y2="1019.5" stroke="#ebebeb" stroke-width="1.0"/>
<line x1="397.4" x2="589.9" y1="963.5" y2="963.5" stroke="#ebebeb" stroke-width="1.0"/>
<line x1="397.4" x2="589.9" y1="908.5" y2="908.5" stroke="#ebebeb" stroke-width="1.0"/>
<line x1="450.5" x2="450.5" y1="868" y2="1081" stroke="#ebebeb" stroke-width="1.0"/>
<line x1="537.5" x2="537.5" y1="868" y2="1081" stroke="#ebebeb" stroke-width="1.0"/>
<text transform="translate(392.4,1076.5) scale(1,1.15)" dy="0.35em" text-anchor="end" font-size="8.79" fill="#4f4f4f">6</text>
<text transform="translate(392.4,1020.76) scale(1,1.15)" dy="0.35em" text-anchor="end" font-size="8.79" fill="#4f4f4f">9</text>
<text transform="translate(392.4,965.02) scale(1,1.15)" dy="0.35em" text-anchor="end" font-size="8.79" fill="#4f4f4f">12</text>
<text transform="translate(392.4,909.28) scale(1,1.15)" dy="0.35em" text-anchor="end" font-size="8.79" fill="#4f4f4f">15</text>
<text transform="translate(378.3,973.7) rotate(-90)" text-anchor="middle" font-size="11.37" fill="#000000">F3-F7 distance (mm)</text>
<line x1="428.5" x2="428.5" y1="906.7" y2="960.3" stroke="#4a4a4a" stroke-width="1.0"/>
<line x1="428.5" x2="428.5" y1="998.2" y2="1041.7" stroke="#4a4a4a" stroke-width="1.0"/>
<rect x="418.4" y="960.3" width="20.2" height="37.9" fill="#deebf7" stroke="#333333" stroke-width="1.0"/>
<line x1="418.4" x2="438.6" y1="981.8" y2="981.8" stroke="#262626" stroke-width="2.0"/>
<line x1="450.5" x2="450.5" y1="909.9" y2="962.3" stroke="#4a4a4a" stroke-width="1.0"/>
<line x1="450.5" x2="450.5" y1="1003.7" y2="1038.7" stroke="#4a4a4a" stroke-width="1.0"/>
<rect x="440.4" y="962.3" width="20.2" height="41.4" fill="#9ecae1" stroke="#333333" stroke-width="1.0"/>
<line x1="440.4" x2="460.6" y1="984.1" y2="984.1" stroke="#262626" stroke-width="2.0"/>
<circle cx="450.5" cy="887.2" r="2.3" fill="#262626"/>
<circle cx="450.5" cy="1068.6" r="2.3" fill="#262626"/>
<line x1="472.5" x2="472.5" y1="900.4" y2="955.8" stroke="#4a4a4a" stroke-width="1.0"/>
<line x1="472.5" x2="472.5" y1="1000.7" y2="1027.9" stroke="#4a4a4a" stroke-width="1.0"/>
<rect x="462.3" y="955.8" width="19.5" height="44.9" fill="#3182bd" stroke="#333333" stroke-width="1.0"/>
<line x1="462.3" x2="481.8" y1="986.7" y2="986.7" stroke="#262626" stroke-width="2.0"/>
<line x1="515.5" x2="515.5" y1="906.7" y2="948.4" stroke="#4a4a4a" stroke-width="1.0"/>
<line x1="515.5" x2="515.5" y1="986.1" y2="1026.2" stroke="#4a4a4a" stroke-width="1.0"/>
<rect x="506.1" y="948.4" width="19.5" height="37.7" fill="#deebf7" stroke="#333333" stroke-width="1.0"/>
<line x1="506.1" x2="525.6" y1="960.3" y2="960.3" stroke="#262626" stroke-width="2.0"/>
<line x1="537.5" x2="537.5" y1="894.4" y2="933.8" stroke="#4a4a4a" stroke-width="1.0"/>
<line x1="537.5" x2="537.5" y1="983.1" y2="1029.9" stroke="#4a4a4a" stroke-width="1.0"/>
<rect x="528.2" y="933.8" width="19.5" height="49.3" fill="#9ecae1" stroke="#333333" stroke-width="1.0"/>
<line x1="528.2" x2="547.7" y1="958.1" y2="958.1" stroke="#262626" stroke-width="2.0"/>
<line x1="559.5" x2="559.5" y1="878" y2="932.6" stroke="#4a4a4a" stroke-width="1.0"/>
<line x1="559.5" x2="559.5" y1="975.3" y2="1019.9" stroke="#4a4a4a" stroke-width="1.0"/>
<rect x="549.4" y="932.6" width="20.2" height="42.7" fill="#3182bd" stroke="#333333" stroke-width="1.0"/>
<line x1="549.4" x2="569.6" y1="951.9" y2="951.9" stroke="#262626" stroke-width="2.0"/>
<circle cx="559.5" cy="1049.9" r="2.3" fill="#262626"/>
<text transform="translate(449.9,1091.5) scale(1,1.15)" text-anchor="middle" font-size="8.98" fill="#4f4f4f">f</text>
<text transform="translate(536.9,1091.5) scale(1,1.15)" text-anchor="middle" font-size="8.98" fill="#4f4f4f">m</text>
<text x="494.3" y="1104.7" text-anchor="middle" font-size="11.22" fill="#000000">Sex</text>
<text x="494.2" y="1130.8" text-anchor="middle" style="font-family:&quot;Liberation Serif&quot;, serif" font-size="16.8" fill="#000">h</text>
<text x="607.3" y="948.9" font-size="11.22" fill="#000">Age group</text>
<line x1="616.5" x2="616.5" y1="956.2" y2="970.9" stroke="#4a4a4a" stroke-width="1.0"/>
<rect x="610.2" y="958.8" width="12.6" height="9.7" fill="#deebf7" stroke="#333333" stroke-width="1.0"/>
<line x1="610.2" x2="622.8" y1="963.65" y2="963.65" stroke="#333333" stroke-width="1" stroke-opacity="0.8"/>
<text transform="translate(631.3,963.8) scale(1,1.15)" dy="0.35em" font-size="8.98" fill="#000" stroke="#000" stroke-width="0.12">18-25</text>
<line x1="616.5" x2="616.5" y1="974.9" y2="988.6" stroke="#4a4a4a" stroke-width="1.0"/>
<rect x="610.2" y="977.5" width="12.6" height="8.7" fill="#9ecae1" stroke="#333333" stroke-width="1.0"/>
<line x1="610.2" x2="622.8" y1="981.85" y2="981.85" stroke="#333333" stroke-width="1" stroke-opacity="0.8"/>
<text transform="translate(631.3,982.3) scale(1,1.15)" dy="0.35em" font-size="8.98" fill="#000" stroke="#000" stroke-width="0.12">26-35</text>
<line x1="616.5" x2="616.5" y1="993.1" y2="1006.8" stroke="#4a4a4a" stroke-width="1.0"/>
<rect x="610.2" y="995.7" width="12.6" height="8.7" fill="#3182bd" stroke="#333333" stroke-width="1.0"/>
<line x1="610.2" x2="622.8" y1="1000.05" y2="1000.05" stroke="#333333" stroke-width="1" stroke-opacity="0.8"/>
<text transform="translate(631.3,1000.5) scale(1,1.15)" dy="0.35em" font-size="8.98" fill="#000" stroke="#000" stroke-width="0.12">36-47</text>
</svg>
</body></html>
